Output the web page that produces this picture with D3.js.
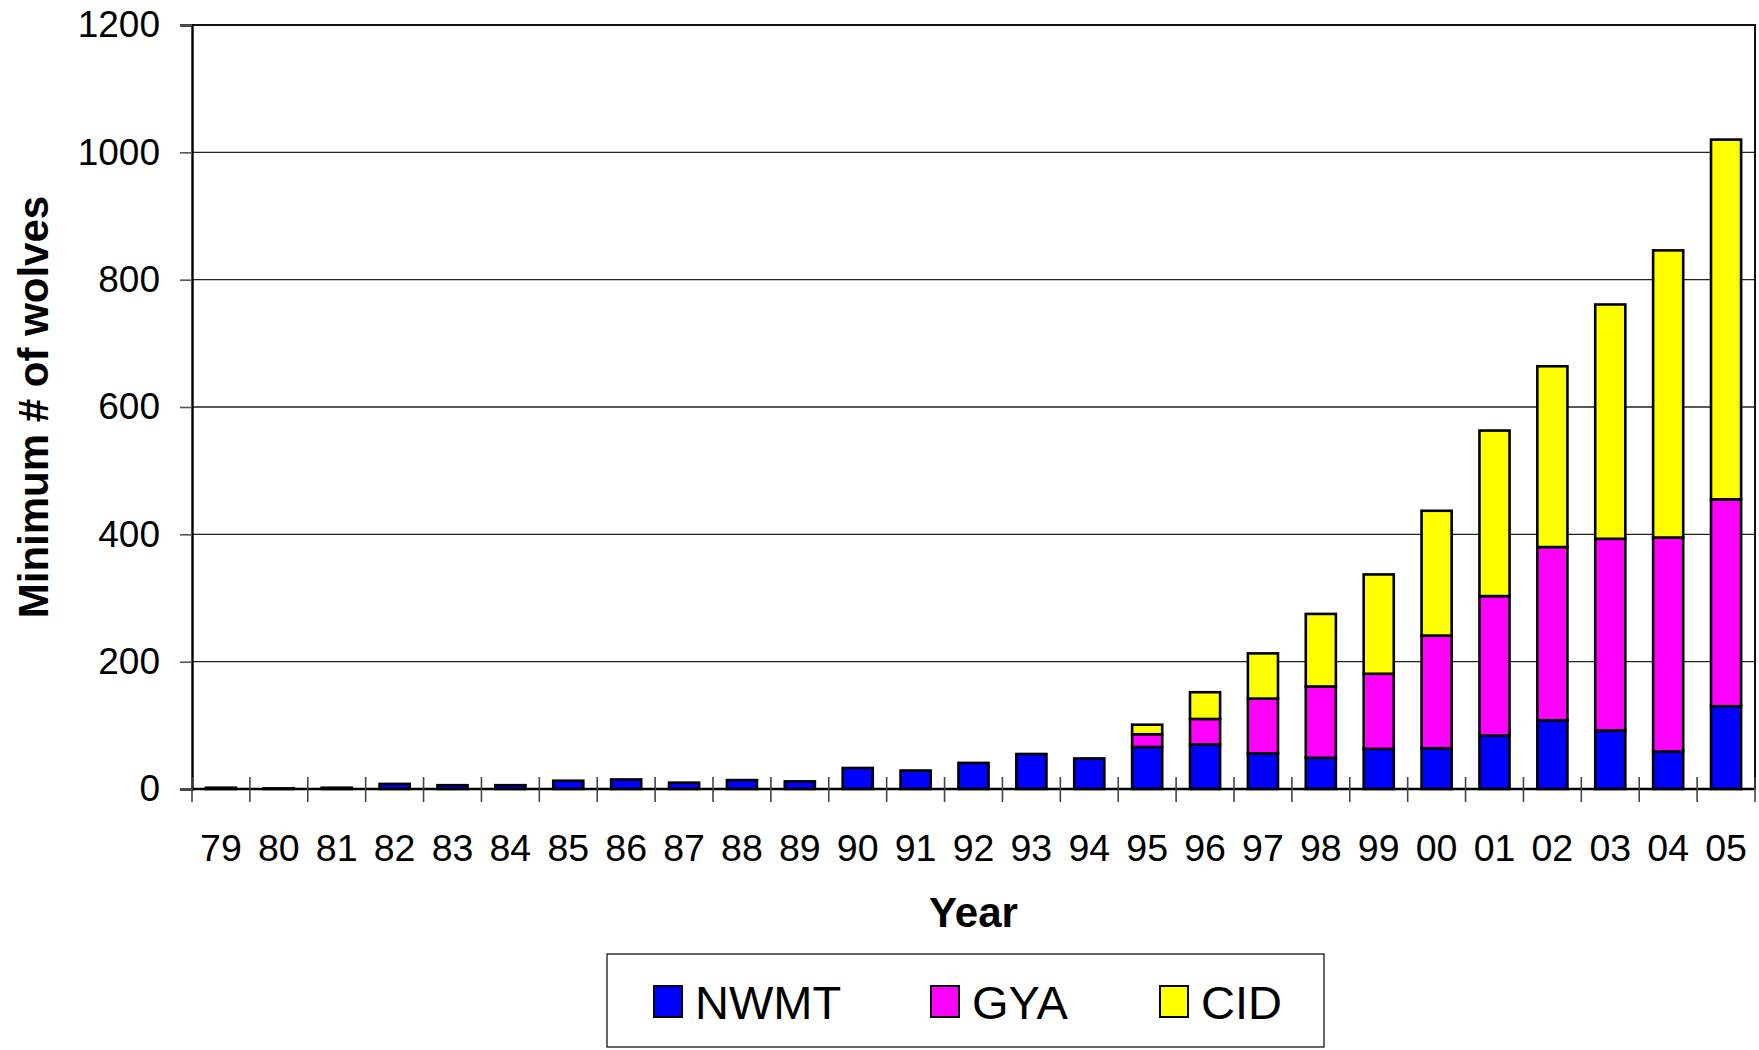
<!DOCTYPE html>
<html>
<head>
<meta charset="utf-8">
<script src="https://cdn.jsdelivr.net/npm/d3@7"></script>
<style>
  html, body { margin: 0; padding: 0; background: #fff; }
  svg { display: block; font-family: "Liberation Sans", Arial, sans-serif; }
</style>
</head>
<body>
<svg id="chart" width="1759" height="1050"></svg>
<script>
// Minimum wolf counts by recovery area, 1979–2005
const years = ["79","80","81","82","83","84","85","86","87","88","89","90","91","92",
               "93","94","95","96","97","98","99","00","01","02","03","04","05"];
const nwmt = [2, 1, 2, 8, 6, 6, 13, 15, 10, 14, 12, 33, 29, 41,
              55, 48, 66, 70, 56, 49, 63, 64, 84, 108, 92, 59, 130];
const gya  = [0, 0, 0, 0, 0, 0, 0, 0, 0, 0, 0, 0, 0, 0,
              0, 0, 20, 40, 86, 112, 118, 177, 219, 272, 301, 336, 325];
const cid  = [0, 0, 0, 0, 0, 0, 0, 0, 0, 0, 0, 0, 0, 0,
              0, 0, 15, 42, 71, 114, 156, 196, 260, 284, 368, 451, 565];
const seriesNames = ["NWMT", "GYA", "CID"];
const seriesColors = ["#0000FF", "#FF00FF", "#FFFF00"];
const yTicks = [0, 200, 400, 600, 800, 1000, 1200];

const svg = d3.select("#chart");
const plot = { left: 192, right: 1755, top: 25, bottom: 789 };

const rows = years.map((y, i) => ({ year: y, NWMT: nwmt[i], GYA: gya[i], CID: cid[i] }));
const stacked = d3.stack().keys(seriesNames)(rows);

const x = d3.scaleBand()
  .domain(years)
  .range([plot.left, plot.right])
  .paddingInner(0.48)
  .paddingOuter(0.24);

const y = d3.scaleLinear().domain([0, 1200]).range([plot.bottom, plot.top]);

// gridlines
svg.append("g")
  .selectAll("line")
  .data(yTicks.filter(t => t > 0))
  .join("line")
  .attr("x1", plot.left).attr("x2", plot.right)
  .attr("y1", d => y(d)).attr("y2", d => y(d))
  .attr("stroke", "#222").attr("stroke-width", 1.4);

// plot frame (top and right)
svg.append("path")
  .attr("d", `M${plot.left},${plot.top}H${plot.right}V${plot.bottom}`)
  .attr("fill", "none").attr("stroke", "#111").attr("stroke-width", 2);

// stacked bars
svg.append("g")
  .selectAll("g")
  .data(stacked)
  .join("g")
  .attr("fill", (d, i) => seriesColors[i])
  .selectAll("rect")
  .data(d => d.filter(s => s[1] - s[0] > 0))
  .join("rect")
  .attr("x", d => x(d.data.year))
  .attr("width", x.bandwidth())
  .attr("y", d => y(d[1]))
  .attr("height", d => y(d[0]) - y(d[1]))
  .attr("stroke", "#000")
  .attr("stroke-width", 2.6);

// y axis
const yAxis = svg.append("g").attr("transform", `translate(${plot.left},0)`)
  .call(d3.axisLeft(y).tickValues(yTicks).tickSize(12).tickPadding(20).tickFormat(d3.format("d")));
yAxis.select(".domain").attr("stroke", "#000").attr("stroke-width", 2.4);
yAxis.selectAll(".tick line").attr("stroke", "#555").attr("stroke-width", 1.6);
yAxis.selectAll(".tick text")
  .attr("font-size", 37).attr("fill", "#000")
  .attr("font-family", "Liberation Sans, Arial, sans-serif");

// x axis: baseline, boundary ticks crossing the axis, category labels
const step = x.step();
const gx = svg.append("g");
gx.append("line")
  .attr("x1", plot.left).attr("x2", plot.right)
  .attr("y1", plot.bottom).attr("y2", plot.bottom)
  .attr("stroke", "#000").attr("stroke-width", 2.4);
gx.selectAll("line.tick")
  .data(d3.range(years.length + 1))
  .join("line")
  .attr("class", "tick")
  .attr("x1", i => plot.left + i * step).attr("x2", i => plot.left + i * step)
  .attr("y1", plot.bottom - 12).attr("y2", plot.bottom + 13)
  .attr("stroke", "#444").attr("stroke-width", 1.6);
gx.selectAll("text")
  .data(years)
  .join("text")
  .attr("x", d => x(d) + x.bandwidth() / 2)
  .attr("y", 861)
  .attr("text-anchor", "middle")
  .attr("font-size", 37.5)
  .text(d => d);

// axis titles
svg.append("text")
  .attr("transform", `translate(48,${(plot.top + plot.bottom) / 2}) rotate(-90)`)
  .attr("text-anchor", "middle")
  .attr("font-size", 42).attr("font-weight", "bold")
  .text("Minimum # of wolves");

svg.append("text")
  .attr("x", (plot.left + plot.right) / 2).attr("y", 927)
  .attr("text-anchor", "middle")
  .attr("font-size", 42).attr("font-weight", "bold")
  .text("Year");

// legend
const legend = svg.append("g");
legend.append("rect")
  .attr("x", 607).attr("y", 954).attr("width", 717).attr("height", 93)
  .attr("fill", "#fff").attr("stroke", "#000").attr("stroke-width", 1.2);
const legendX = [654, 931, 1160];
const item = legend.selectAll("g.item")
  .data(seriesNames)
  .join("g")
  .attr("class", "item")
  .attr("transform", (d, i) => `translate(${legendX[i]},986)`);
item.append("rect")
  .attr("width", 28).attr("height", 31)
  .attr("fill", (d, i) => seriesColors[i])
  .attr("stroke", "#000").attr("stroke-width", 2);
item.append("text")
  .attr("x", 41).attr("y", 33)
  .attr("font-size", 47)
  .text(d => d);
</script>
</body>
</html>
